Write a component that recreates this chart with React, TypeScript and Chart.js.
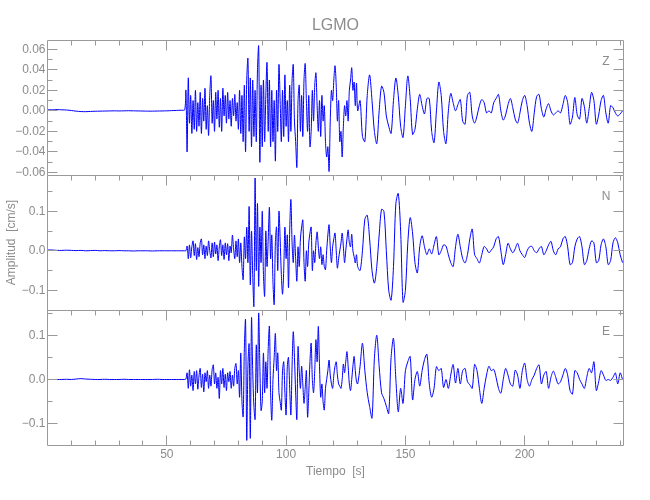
import React, { useEffect, useRef } from "react";
import { Chart, registerables } from "chart.js";

Chart.register(...registerables);

// ---------------- text ----------------
const TITLE = "LGMO";
const X_LABEL = "Tiempo  [s]";
const Y_LABEL = "Amplitud  [cm/s]";
const COMPONENTS = ["Z", "N", "E"];

// ---------------- sampling of the traces (start [s], step [s], count) ----------------
const SEG_START = [0, 57.5, 131];
const SEG_STEP = [2, 0.5, 1];
const SEG_COUNT = [29, 146, 111];

// ---------------- Z component [cm/s] ----------------
const zPre = [
  0.001, 0.001, 0.0012, 0.001, 0.0008, 0.0003, -0.0003, -0.0007, -0.0008, -0.0006,
  -0.0004, -0.0003, -0.0002, -0.0001, 0.0, -0.0001, 0.0, 0.0001, 0.0, -0.0001,
  -0.0002, -0.0003, -0.0003, -0.0002, -0.0001, 0.0, 0.0002, 0.0004, 0.0006,
];
const zMain = [
  0.001, 0.02, -0.04, 0.032, -0.012, 0.015, -0.022, 0.01, -0.018, 0.02,
  -0.02, 0.008, -0.015, 0.018, -0.022, 0.012, -0.01, 0.022, -0.018, 0.005,
  -0.024, 0.015, 0.034, -0.012, 0.01, -0.02, 0.018, -0.008, 0.02, -0.016,
  0.012, -0.02, 0.022, -0.005, 0.015, -0.012, 0.018, -0.008, 0.01, -0.015,
  0.012, -0.005, 0.016, -0.01, 0.008, -0.018, 0.02, -0.022, 0.015, -0.03,
  0.025, -0.04, 0.03, 0.051, -0.02, 0.032, -0.035, 0.03, -0.025, 0.02,
  -0.03, 0.04, 0.063, -0.05, 0.025, -0.035, 0.03, -0.03, 0.015, 0.047,
  -0.02, 0.03, -0.035, 0.02, -0.03, 0.01, -0.049, 0.02, -0.02, 0.045,
  0.01, -0.03, 0.02, -0.025, 0.035, -0.015, 0.01, -0.03, 0.025, -0.02,
  0.03, 0.045, -0.01, -0.03, -0.055, 0.01, 0.025, -0.02, 0.015, -0.025,
  0.03, 0.046, 0.01, -0.02, 0.015, -0.035, -0.02, 0.02, -0.01, 0.025,
  0.037, 0.005, -0.02, 0.01, -0.025, 0.015, -0.01, 0.005, -0.03, -0.045,
  -0.035, -0.059, -0.01, 0.02, 0.01, 0.03, 0.044, 0.025, -0.01, 0.01,
  -0.03, -0.02, -0.045, -0.015, 0.005, -0.005, 0.01, -0.01, 0.02, 0.03,
  0.042, 0.02, 0.028, 0.005, 0.027, 0.0,
];
const zCoda = [
  0.01, -0.025, -0.03, 0.015, 0.035, 0.01, -0.02, -0.032, 0.0, 0.024,
  0.018, -0.005, -0.015, -0.022, 0.01, 0.032, 0.015, -0.015, -0.026, 0.005,
  0.034, 0.012, -0.023, -0.018, 0.002, 0.016, 0.005, -0.003, 0.012, 0.012,
  -0.02, -0.031, 0.0, 0.028, 0.015, -0.02, -0.032, 0.0, 0.017, 0.008,
  0.0, 0.006, 0.011, -0.01, -0.013, 0.015, 0.018, -0.005, -0.012, -0.005,
  0.005, 0.011, 0.008, -0.002, 0.0, -0.002, 0.008, 0.012, 0.016, 0.0,
  -0.009, -0.004, 0.006, 0.012, 0.003, -0.008, -0.012, -0.002, 0.01, 0.015,
  0.005, -0.012, -0.02, -0.002, 0.014, 0.016, 0.002, -0.006, 0.002, 0.007,
  0.0, -0.004, -0.002, 0.0, -0.002, 0.006, 0.015, 0.008, -0.013, -0.006,
  0.013, -0.004, -0.008, 0.012, 0.004, -0.012, 0.002, 0.018, 0.01, -0.013,
  -0.004, 0.01, 0.015, -0.002, -0.012, 0.005, 0.003, -0.002, -0.005, -0.003,
  0.0,
];

// ---------------- N component [cm/s] ----------------
const nPre = [
  0.002, 0.002, 0.001, 0.001, 0.0015, 0.001, 0.0005, 0.001, 0.0, 0.0005,
  0.001, 0.0, 0.0005, 0.0, 0.0, 0.0005, 0.0, 0.0, -0.0005, 0.0,
  0.0, 0.0, -0.0005, 0.0, 0.0, 0.0, 0.0, 0.0, 0.0,
];
const nMain = [
  0.0, 0.0, 0.012, -0.02, 0.015, -0.018, 0.01, 0.025, -0.012, 0.018,
  -0.022, 0.008, -0.015, 0.02, 0.03, -0.01, 0.015, -0.02, 0.012, -0.012,
  0.025, 0.0, -0.018, 0.02, -0.015, 0.022, -0.008, 0.015, -0.025, 0.01,
  0.028, -0.012, 0.015, -0.022, 0.02, -0.01, 0.018, -0.025, 0.012, -0.005,
  0.04, 0.005, -0.02, 0.025, -0.015, 0.03, -0.03, 0.02, -0.04, -0.073,
  0.035, -0.02, 0.06, -0.03, 0.112, -0.086, 0.05, -0.06, -0.14, 0.184,
  -0.05, 0.12, -0.09, 0.06, -0.03, 0.1, -0.06, -0.115, 0.05, -0.04,
  0.03, 0.11, -0.02, 0.04, -0.08, -0.136, 0.02, 0.06, -0.05, 0.1,
  0.03, -0.06, -0.11, -0.05, 0.06, -0.02, 0.04, -0.094, 0.05, 0.13,
  0.02, -0.03, 0.04, -0.02, -0.077, 0.01, -0.04, 0.03, 0.06, 0.078,
  -0.03, -0.077, 0.0, -0.04, 0.02, 0.045, 0.06, -0.05, 0.0, -0.03,
  0.02, 0.048, 0.01, -0.02, 0.01, -0.035, -0.01, -0.04, -0.048, 0.0,
  0.04, 0.066, 0.01, -0.03, 0.01, 0.03, 0.045, 0.0, -0.044, -0.02,
  0.0, 0.02, 0.045, 0.01, -0.03, 0.0, 0.03, 0.053, 0.02, 0.01,
  0.042, 0.0, -0.015, -0.031, -0.01, -0.04,
];
const nCoda = [
  -0.05, 0.0, 0.08, 0.09, 0.03, -0.05, -0.082, -0.04, 0.04, 0.105,
  0.1, 0.0, -0.1, -0.125, -0.04, 0.12, 0.145, 0.05, -0.13, -0.1,
  0.02, 0.084, 0.045, -0.03, -0.056, 0.01, 0.038, 0.01, -0.01, 0.005,
  -0.008, 0.015, 0.036, -0.01, 0.0, 0.015, 0.012, -0.01, -0.03, -0.04,
  0.01, 0.042, 0.01, -0.02, -0.031, -0.01, 0.03, 0.055, -0.01, -0.02,
  -0.031, -0.01, 0.011, 0.005, -0.005, 0.002, 0.01, 0.03, 0.036, 0.0,
  -0.035, -0.01, 0.019, 0.005, -0.005, 0.005, 0.019, 0.0, -0.01, -0.017,
  0.0, 0.01, 0.011, 0.0, -0.005, 0.005, 0.011, -0.01, 0.0, 0.015,
  0.024, 0.0, -0.01, 0.005, 0.01, 0.03, 0.036, 0.01, -0.035, -0.03,
  0.01, 0.03, 0.036, 0.01, -0.035, -0.025, 0.005, 0.025, 0.02, -0.03,
  -0.025, 0.015, 0.03, 0.01, -0.035, -0.025, 0.02, 0.033, 0.02, -0.01,
  -0.03,
];

// ---------------- E component [cm/s] ----------------
const ePre = [
  0.0, 0.0, 0.0, 0.0, 0.0005, 0.0, 0.001, 0.002, 0.001, 0.0005,
  0.0, 0.0, 0.0005, 0.0, 0.0, 0.0, 0.0005, 0.0, 0.0, 0.0,
  0.0, 0.0, 0.0, 0.0005, 0.0, 0.0, 0.0, 0.0, 0.0,
];
const eMain = [
  0.0, 0.001, 0.015, -0.02, 0.022, -0.015, 0.01, -0.025, 0.018, -0.01,
  0.02, -0.022, 0.008, 0.025, -0.018, 0.012, -0.028, 0.015, -0.005, 0.02,
  -0.02, 0.01, -0.015, 0.022, 0.033, -0.01, 0.015, -0.02, 0.005, -0.043,
  0.02, -0.01, 0.025, -0.018, 0.012, -0.025, 0.015, -0.005, 0.018, -0.02,
  0.01, -0.015, 0.025, 0.036, -0.01, 0.02, -0.04, 0.06, -0.05, -0.084,
  0.07, 0.135, -0.137, 0.03, 0.08, -0.133, 0.139, 0.02, -0.06, -0.09,
  0.078, -0.03, 0.15, 0.03, -0.07, -0.05, 0.06, -0.03, 0.04, -0.02,
  0.07, 0.12, -0.03, -0.092, 0.0, 0.05, 0.104, 0.02, 0.06, -0.03,
  -0.05, -0.069, 0.02, 0.04, -0.03, -0.08, 0.03, 0.05, -0.02, -0.08,
  0.03, 0.108, 0.05, -0.03, -0.09, 0.074, 0.02, -0.02, 0.03, -0.01,
  -0.054, -0.02, 0.02, -0.085, -0.03, 0.04, 0.082, 0.0, -0.03, 0.02,
  0.09, 0.04, 0.12, 0.03, -0.04, -0.01, -0.05, -0.069, -0.02, 0.0,
  0.02, 0.044, 0.01, -0.01, -0.02, 0.01, 0.03, 0.04, 0.01, -0.01,
  -0.015, -0.02, 0.0, 0.035, 0.015, 0.04, 0.063, 0.03, -0.01, -0.025,
  0.0, 0.03, 0.052, 0.02, -0.005, -0.01,
];
const eCoda = [
  0.03, 0.082, 0.02, -0.03, -0.061, -0.087, 0.048, 0.1, 0.03, -0.03,
  -0.043, -0.06, -0.077, 0.05, 0.093, 0.0, -0.073, -0.02, -0.054, 0.02,
  0.04, 0.052, -0.046, 0.0, 0.018, -0.015, 0.02, 0.045, 0.057, -0.01,
  -0.04, -0.02, 0.029, 0.02, 0.025, -0.018, 0.0, -0.02, 0.01, 0.034,
  -0.008, 0.025, -0.01, 0.02, 0.025, -0.005, -0.012, -0.02, 0.034, 0.02,
  -0.02, -0.054, -0.02, 0.01, 0.03, 0.02, 0.023, 0.005, -0.02, -0.031,
  0.0, 0.025, 0.01, -0.01, -0.015, 0.021, 0.01, -0.02, 0.02, 0.037,
  0.0, -0.015, 0.0, 0.01, 0.025, 0.033, -0.01, 0.01, 0.018, -0.02,
  0.005, 0.019, 0.005, -0.01, -0.005, 0.01, 0.025, 0.01, -0.025, -0.033,
  0.02, 0.015, 0.0, -0.01, -0.02, 0.005, 0.025, 0.015, 0.04, -0.025,
  -0.005, 0.02, 0.01, -0.002, 0.0, -0.002, 0.005, 0.015, -0.01, 0.015,
  0.0,
];

// ---------------- axes ----------------
const X_RANGE = [0, 241.4];
const X_MAJOR = [50, 100, 150, 200];
const X_MINOR = [10, 20, 30, 40, 60, 70, 80, 90, 110, 120, 130, 140, 160, 170, 180, 190, 210, 220, 230, 240];

const Z_RANGE = [-0.0625, 0.069];
const Z_MAJOR = [-0.06, -0.04, -0.02, 0, 0.02, 0.04, 0.06];
const Z_MINOR = [-0.05, -0.03, -0.01, 0.01, 0.03, 0.05];
const N_RANGE = [-0.15, 0.192];
const E_RANGE = [-0.148, 0.157];
const NE_MAJOR = [-0.1, 0, 0.1];
const NE_MINOR = [-0.15, -0.05, 0.05, 0.15];

// ---------------- style ----------------
const FONT = '"Liberation Sans Narrow", "Liberation Sans", Arial, sans-serif';
const TEXT = "#8c8c8c";
const FRAME = "#9a9a9a";
const TRACE = "#0000ff";

function sampleTimes(): number[] {
  const t: number[] = [];
  SEG_START.forEach((s, k) => {
    for (let i = 0; i < SEG_COUNT[k]; i++) t.push(+(s + i * SEG_STEP[k]).toFixed(3));
  });
  return t;
}

function toPoints(values: number[]) {
  const times = sampleTimes();
  return times.map((t, i) => ({ x: t, y: values[i] }));
}

const fmt = (digits: number) => (v: number) =>
  (v < -1e-9 ? "\u2212" : "") + Math.abs(v).toFixed(digits);

function yScale(range: number[], major: number[], weight: number, digits: number) {
  return {
    type: "linear",
    position: "left",
    stack: "seis",
    stackWeight: 1,
    weight,
    min: range[0],
    max: range[1],
    grid: { display: false, drawTicks: false },
    border: { display: false },
    afterBuildTicks: (s: any) => {
      s.ticks = major.map((v) => ({ value: v }));
    },
    afterFit: (s: any) => {
      s.width = 47.5;
    },
    ticks: {
      autoSkip: false,
      padding: 2,
      color: TEXT,
      font: { family: FONT, size: 12 },
      callback: (v: any) => fmt(digits)(Number(v)),
    },
  };
}

const snap = (v: number) => Math.floor(v) + 0.5;

const framePlugin = {
  id: "seisFrame",
  afterDraw(chart: any) {
    const ctx = chart.ctx as CanvasRenderingContext2D;
    const xs = chart.scales.x;
    const panels = [chart.scales.y1, chart.scales.y2, chart.scales.y3];
    const minors = [Z_MINOR, NE_MINOR, NE_MINOR];
    const majors = [Z_MAJOR, NE_MAJOR, NE_MAJOR];
    const L = snap(chart.chartArea.left);
    const R = snap(chart.chartArea.right);
    ctx.save();
    ctx.strokeStyle = FRAME;
    ctx.lineWidth = 1;
    ctx.beginPath();
    panels.forEach((ys: any, i: number) => {
      const T = snap(ys.top);
      const B = snap(ys.bottom);
      ctx.moveTo(L, T);
      ctx.lineTo(R, T);
      ctx.moveTo(L, T);
      ctx.lineTo(L, B);
      ctx.moveTo(R, T);
      ctx.lineTo(R, B);
      const xt = (vals: number[], len: number) => {
        vals.forEach((v) => {
          const px = snap(xs.getPixelForValue(v));
          ctx.moveTo(px, T);
          ctx.lineTo(px, T + len);
          if (i === panels.length - 1) {
            ctx.moveTo(px, B);
            ctx.lineTo(px, B - len);
          }
        });
      };
      xt(X_MAJOR, 10);
      xt(X_MINOR, 5);
      const yt = (vals: number[], len: number) => {
        vals.forEach((v) => {
          if (v < ys.min || v > ys.max) return;
          const py = snap(ys.getPixelForValue(v));
          ctx.moveTo(L, py);
          ctx.lineTo(L + len, py);
          ctx.moveTo(R, py);
          ctx.lineTo(R - len, py);
        });
      };
      yt(majors[i], 10);
      yt(minors[i], 5);
      if (i === panels.length - 1) {
        ctx.moveTo(L, B);
        ctx.lineTo(R, B);
      }
    });
    ctx.stroke();

    ctx.fillStyle = TEXT;
    ctx.textAlign = "center";
    ctx.textBaseline = "middle";
    ctx.font = `16px ${FONT}`;
    ctx.fillText(TITLE, (L + R) / 2, 26);
    ctx.font = `12px ${FONT}`;
    ctx.fillText(X_LABEL, (L + R) / 2, 472);
    const mid = panels[1];
    ctx.save();
    ctx.translate(12, (mid.top + mid.bottom) / 2);
    ctx.rotate(-Math.PI / 2);
    ctx.fillText(Y_LABEL, 0, 0);
    ctx.restore();
    panels.forEach((ys: any, i: number) => {
      ctx.fillText(COMPONENTS[i], R - 17.5, ys.top + 21.5);
    });
    ctx.restore();
  },
};

export default function App() {
  const ref = useRef<HTMLCanvasElement | null>(null);
  useEffect(() => {
    if (!ref.current) return;
    const ds = (values: number[], axis: string) => ({
      data: toPoints(values),
      yAxisID: axis,
      xAxisID: "x",
      borderColor: TRACE,
      borderWidth: 1,
      pointRadius: 0,
      tension: 0.3,
      fill: false,
    });
    const chart = new Chart(ref.current, {
      type: "line",
      data: {
        datasets: [
          ds([...zPre, ...zMain, ...zCoda], "y1"),
          ds([...nPre, ...nMain, ...nCoda], "y2"),
          ds([...ePre, ...eMain, ...eCoda], "y3"),
        ],
      },
      options: {
        responsive: false,
        animation: false,
        events: [],
        layout: { padding: { left: 0, right: 26.5, top: 40, bottom: 0 } },
        plugins: { legend: { display: false }, tooltip: { enabled: false }, title: { display: false } },
        scales: {
          x: {
            type: "linear",
            position: "bottom",
            min: X_RANGE[0],
            max: X_RANGE[1],
            grid: { display: false, drawTicks: false },
            border: { display: false },
            afterBuildTicks: (s: any) => {
              s.ticks = X_MAJOR.map((v) => ({ value: v }));
            },
            afterFit: (s: any) => {
              s.height = 55;
            },
            ticks: {
              autoSkip: false,
              maxRotation: 0,
              padding: 2,
              color: TEXT,
              font: { family: FONT, size: 12 },
              callback: (v: any) => String(v),
            },
          },
          y1: yScale(Z_RANGE, Z_MAJOR, 3, 2),
          y2: yScale(N_RANGE, NE_MAJOR, 2, 1),
          y3: yScale(E_RANGE, NE_MAJOR, 1, 1),
        } as any,
      },
      plugins: [framePlugin],
    } as any);
    return () => chart.destroy();
  }, []);
  return (
    <div style={{ position: "absolute", left: 0, top: 0, width: 650, height: 500, background: "#fff" }}>
      <canvas ref={ref} width={650} height={500} style={{ display: "block" }} />
    </div>
  );
}
